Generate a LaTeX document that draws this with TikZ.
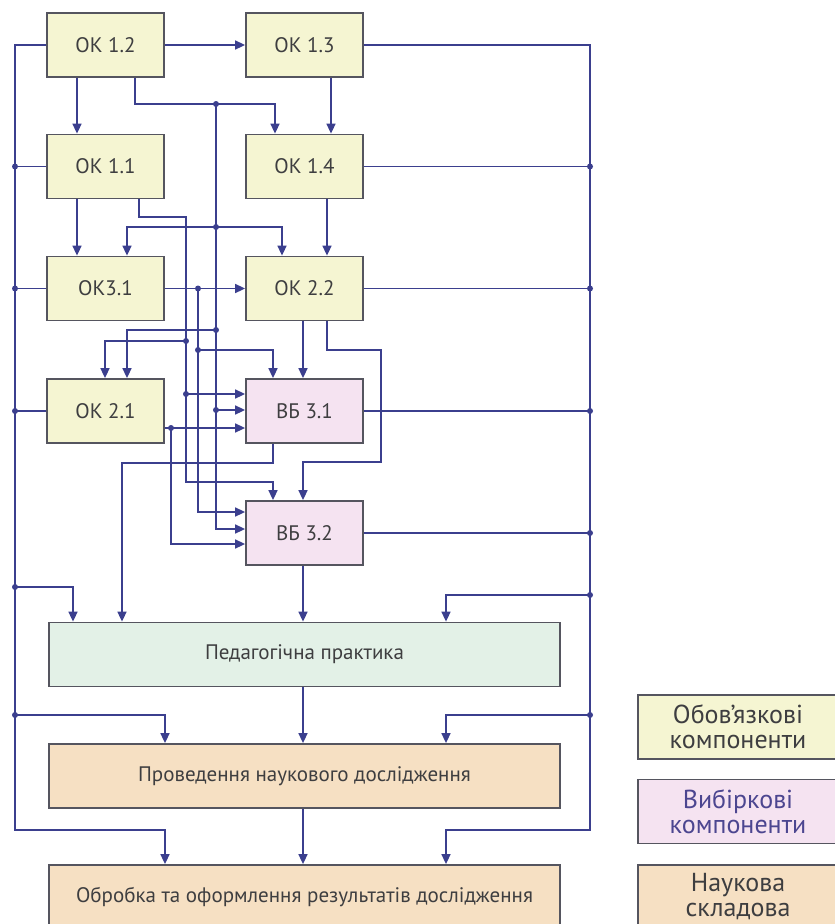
\documentclass[tikz,border=0pt]{standalone}
\usepackage{fontspec}
\setmainfont{PT Sans}
\usetikzlibrary{arrows.meta}
\definecolor{lnc}{HTML}{3B3F8E}
\definecolor{bdr}{HTML}{55555F}
\definecolor{yel}{HTML}{F5F5D2}
\definecolor{pnk}{HTML}{F5E3F1}
\definecolor{grn}{HTML}{E3F1E7}
\definecolor{org}{HTML}{F6E0C3}
\definecolor{txt}{HTML}{3E3E40}
\definecolor{ptx}{HTML}{4C4690}
\begin{document}
\begin{tikzpicture}[x=1pt,y=-1pt,
  box/.style={draw=bdr,line width=1.8pt,inner sep=0pt,minimum width=117pt,minimum height=64pt,text=txt,font=\fontsize{21}{24}\selectfont},
  yb/.style={box,fill=yel},
  pb/.style={box,fill=pnk},
  wide/.style={box,minimum width=511pt},
  leg/.style={box,minimum width=200pt,align=center,font=\fontsize{26}{25}\selectfont},
  ln/.style={draw=lnc,line width=1.6pt},
  arr/.style={ln,-{Triangle[length=10pt,width=9pt]}},
  dot/.style={circle,fill=lnc,inner sep=0pt,minimum size=6pt}]
\clip (0,0) rectangle (835,924);
\fill[white] (0,0) rectangle (835,924);

% column / row helpers
\foreach \n/\v in {L/15,R/590,a73/73,a77/77,a105/105,a122/122,a127/127,a135/135,a139/139,a165/165,a171/171,a186/186,a198/198,a216/216,a273/273,a275/275,a282/282,a303/303,a327/327,a331/331,a381/381,a446/446}
  {\coordinate (\n) at (\v,0);}
\foreach \n/\v in {b104/104,b217/217,b227/227,b330/330,b341/341,b350/350,b394/394,b410/410,b428/428,b462/462,b463/463,b482/482,b512/512,b529/529,b544/544,b587/587,b595/595,b715/715,b830/830}
  {\coordinate (\n) at (0,\v);}

% boxes
\node[yb] (ok12) at (105.5,45) {ОК 1.2};
\node[yb] (ok13) at (304.5,45) {ОК 1.3};
\node[yb] (ok11) at (105.5,166.5) {ОК 1.1};
\node[yb] (ok14) at (304.5,166.5) {ОК 1.4};
\node[yb] (ok31) at (105.5,288.5) {ОК3.1};
\node[yb] (ok22) at (304.5,288.5) {ОК 2.2};
\node[yb] (ok21) at (105.5,411) {ОК 2.1};
\node[pb] (vb31) at (304.5,411) {ВБ 3.1};
\node[pb] (vb32) at (304.5,533) {ВБ 3.2};
\node[wide,fill=grn] (ped) at (304.5,654.5) {Педагогічна практика};
\node[wide,fill=org] (prov) at (304.5,776) {Проведення наукового дослідження};
\node[wide,fill=org] (obr) at (304.5,897) {Обробка та оформлення результатів дослідження};

% legend
\node[leg,fill=yel] (l1) at (738,727) {Обов’язкові\\компоненти};
\node[leg,fill=pnk,text=ptx] (l2) at (738,811.5) {Вибіркові\\компоненти};
\node[leg,fill=org] (l3) at (738,897) {Наукова\\складова};

% left bus
\draw[arr] (ok12.west) -- (L |- ok12.west) -- (L |- b830) -| (obr.north -| a165);
\draw[ln] (ok11.west) -- (L |- ok11.west) node[dot]{};
\draw[ln] (ok31.west) -- (L |- ok31.west) node[dot]{};
\draw[ln] (ok21.west) -- (L |- ok21.west) node[dot]{};
\draw[arr] (L |- b587) node[dot]{} -| (ped.north -| a73);
\draw[arr] (L |- b715) node[dot]{} -| (prov.north -| a165);

% right bus
\draw[arr] (ok13.east) -- (R |- ok13.east) -- (R |- b830) -| (obr.north -| a446);
\draw[ln] (ok14.east) -- (R |- ok14.east) node[dot]{};
\draw[ln] (ok22.east) -- (R |- ok22.east) node[dot]{};
\draw[ln] (vb31.east) -- (R |- vb31.east) node[dot]{};
\draw[ln] (vb32.east) -- (R |- vb32.east) node[dot]{};
\draw[arr] (R |- b595) node[dot]{} -| (ped.north -| a446);
\draw[arr] (R |- b715) node[dot]{} -| (prov.north -| a446);

% centre column
\draw[arr] (vb32.south -| a303) -- (ped.north -| a303);
\draw[arr] (ped.south -| a303) -- (prov.north -| a303);
\draw[arr] (prov.south -| a303) -- (obr.north -| a303);

% internal links
\draw[arr] (ok12.east) -- (ok13.west);
\draw[arr] (ok12.south -| a77) -- (ok11.north -| a77);
\draw[arr] (ok12.south -| a135) |- (a275 |- b104) -- (ok14.north -| a275);
\draw[arr] (ok13.south -| a331) -- (ok14.north -| a331);
\draw[arr] (ok11.south -| a77) -- (ok31.north -| a77);
\draw[arr] (ok11.south -| a139) |- (a186 |- b217) -- (a186 |- b482) -| (vb32.north -| a273);
\draw[arr] (a216 |- b104) -- (a216 |- b529) -- (vb32.west |- b529);
\draw[arr] (a216 |- b227) -- (a127 |- b227) -- (ok31.north -| a127);
\draw[arr] (a216 |- b227) -- (a282 |- b227) -- (ok22.north -| a282);
\draw[arr] (a216 |- b330) -| (ok21.north -| a127);
\draw[arr] (a216 |- b410) -- (vb31.west |- b410);
\draw[arr] (a186 |- b341) -| (ok21.north -| a105);
\draw[arr] (a186 |- b394) -- (vb31.west |- b394);
\draw[arr] (ok14.south -| a327) -- (ok22.north -| a327);
\draw[arr] (ok31.east) -- (ok22.west);
\draw[arr] (ok31.east -| a198) -- (a198 |- b512) -- (vb32.west |- b512);
\draw[arr] (a198 |- b350) -| (vb31.north -| a273);
\draw[arr] (ok22.south -| a303) -- (vb31.north -| a303);
\draw[arr] (ok22.south -| a327) -- (a327 |- b350) -- (a381 |- b350) -- (a381 |- b462) -| (vb32.north -| a303);
\draw[arr] (ok21.east |- b428) -- (vb31.west |- b428);
\draw[arr] (a171 |- b428) -- (a171 |- b544) -- (vb32.west |- b544);
\draw[arr] (vb31.south -| a273) -- (a273 |- b463) -| (ped.north -| a122);

% junction dots
\foreach \p in {a216 |- b104, a216 |- b227, a216 |- b330, a216 |- b410, a186 |- b341, a186 |- b394, a198 |- ok31.east, a198 |- b350, a171 |- b428}
  {\node[dot] at (\p) {};}
\end{tikzpicture}
\end{document}
